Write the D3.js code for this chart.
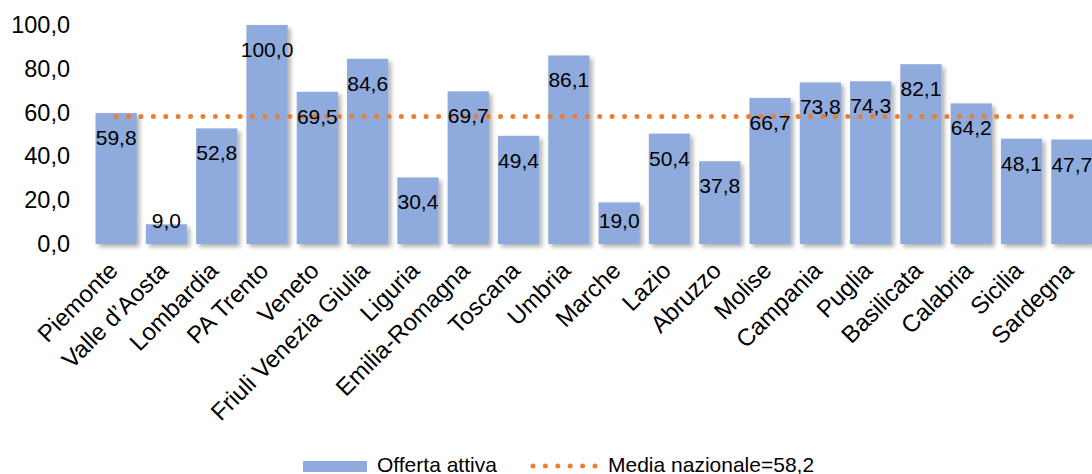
<!DOCTYPE html>
<html>
<head>
<meta charset="utf-8">
<script src="https://cdn.jsdelivr.net/npm/d3@7"></script>
<style>
  body { margin: 0; background: #fff; }
  svg { display: block; font-family: "Liberation Sans", Arial, sans-serif; }
</style>
</head>
<body>
<svg id="chart" width="1092" height="474"></svg>
<script>
var regions = ["Piemonte", "Valle d\u2019Aosta", "Lombardia", "PA Trento", "Veneto",
  "Friuli Venezia Giulia", "Liguria", "Emilia-Romagna", "Toscana", "Umbria",
  "Marche", "Lazio", "Abruzzo", "Molise", "Campania", "Puglia", "Basilicata",
  "Calabria", "Sicilia", "Sardegna"];
var offerta = [59.8, 9.0, 52.8, 100.0, 69.5, 84.6, 30.4, 69.7, 49.4, 86.1,
  19.0, 50.4, 37.8, 66.7, 73.8, 74.3, 82.1, 64.2, 48.1, 47.7];
var media = 58.2;
var yTicks = [0, 20, 40, 60, 80, 100];
var legendLabels = ["Offerta attiva", "Media nazionale=58,2"];

var svg = d3.select("#chart");
var fmt = function (v) { return v.toFixed(1).replace(".", ","); };

var defs = svg.append("defs");
var f = defs.append("filter").attr("id", "shadow")
  .attr("x", "-20%").attr("y", "-20%").attr("width", "150%").attr("height", "150%");
f.append("feDropShadow").attr("dx", 3).attr("dy", 3).attr("stdDeviation", 2)
  .attr("flood-color", "#000").attr("flood-opacity", 0.3);

var x = d3.scaleBand().domain(regions).range([91, 1097]).paddingInner(0.18).paddingOuter(0.09);
var y = d3.scaleLinear().domain([0, 100]).range([244, 25]);

// y axis, labels only
var yAxis = d3.axisLeft(y).tickValues(yTicks).tickFormat(fmt).tickSize(0).tickPadding(0);
var gy = svg.append("g").attr("transform", "translate(70,0)").call(yAxis);
gy.select(".domain").remove();
gy.selectAll("text").attr("font-size", 23.5).attr("fill", "#000")
  .attr("font-family", "Liberation Sans, Arial, sans-serif");

// baseline
svg.append("line")
  .attr("x1", 91).attr("x2", 1092)
  .attr("y1", y(0) + 0.5).attr("y2", y(0) + 0.5)
  .attr("stroke", "#d9d9d9").attr("stroke-width", 1.5)
  .attr("filter", "url(#shadow)");

// bars
svg.append("g").selectAll("rect")
  .data(offerta)
  .join("rect")
  .attr("x", function (d, i) { return x(regions[i]); })
  .attr("y", function (d) { return y(d); })
  .attr("width", x.bandwidth())
  .attr("height", function (d) { return y(0) - y(d); })
  .attr("fill", "#8faadc")
  .attr("filter", "url(#shadow)");

// average dotted line
var lineY = y(media);
svg.append("line")
  .attr("x1", x(regions[0]) + x.bandwidth() / 2)
  .attr("x2", x(regions[regions.length - 1]) + x.bandwidth() / 2)
  .attr("y1", lineY).attr("y2", lineY)
  .attr("stroke", "#ed7d31").attr("stroke-width", 5)
  .attr("stroke-linecap", "round")
  .attr("stroke-dasharray", "0,12.4");

// value labels
svg.append("g").selectAll("text")
  .data(offerta)
  .join("text")
  .attr("x", function (d, i) { return x(regions[i]) + x.bandwidth() / 2; })
  .attr("y", function (d) { return Math.min(y(d) + 32, y(0) - 16); })
  .attr("text-anchor", "middle")
  .attr("font-size", 21)
  .attr("fill", "#000")
  .text(fmt);

// category labels
svg.append("g").selectAll("text")
  .data(regions)
  .join("text")
  .attr("transform", function (d) {
    return "translate(" + (x(d) + x.bandwidth() / 2 + 3) + ",272) rotate(-45)";
  })
  .attr("text-anchor", "end")
  .attr("font-size", 24)
  .attr("fill", "#000")
  .text(function (d) { return d; });

// legend
var leg = svg.append("g");
leg.append("rect").attr("x", 303).attr("y", 461).attr("width", 64).attr("height", 11)
  .attr("fill", "#8faadc");
leg.append("text").attr("x", 377).attr("y", 471.5).attr("font-size", 21).text(legendLabels[0]);
leg.append("line").attr("x1", 533).attr("x2", 596).attr("y1", 466).attr("y2", 466)
  .attr("stroke", "#ed7d31").attr("stroke-width", 5)
  .attr("stroke-linecap", "round").attr("stroke-dasharray", "0,12.4");
leg.append("text").attr("x", 608).attr("y", 471.5).attr("font-size", 21).text(legendLabels[1]);
</script>
</body>
</html>
